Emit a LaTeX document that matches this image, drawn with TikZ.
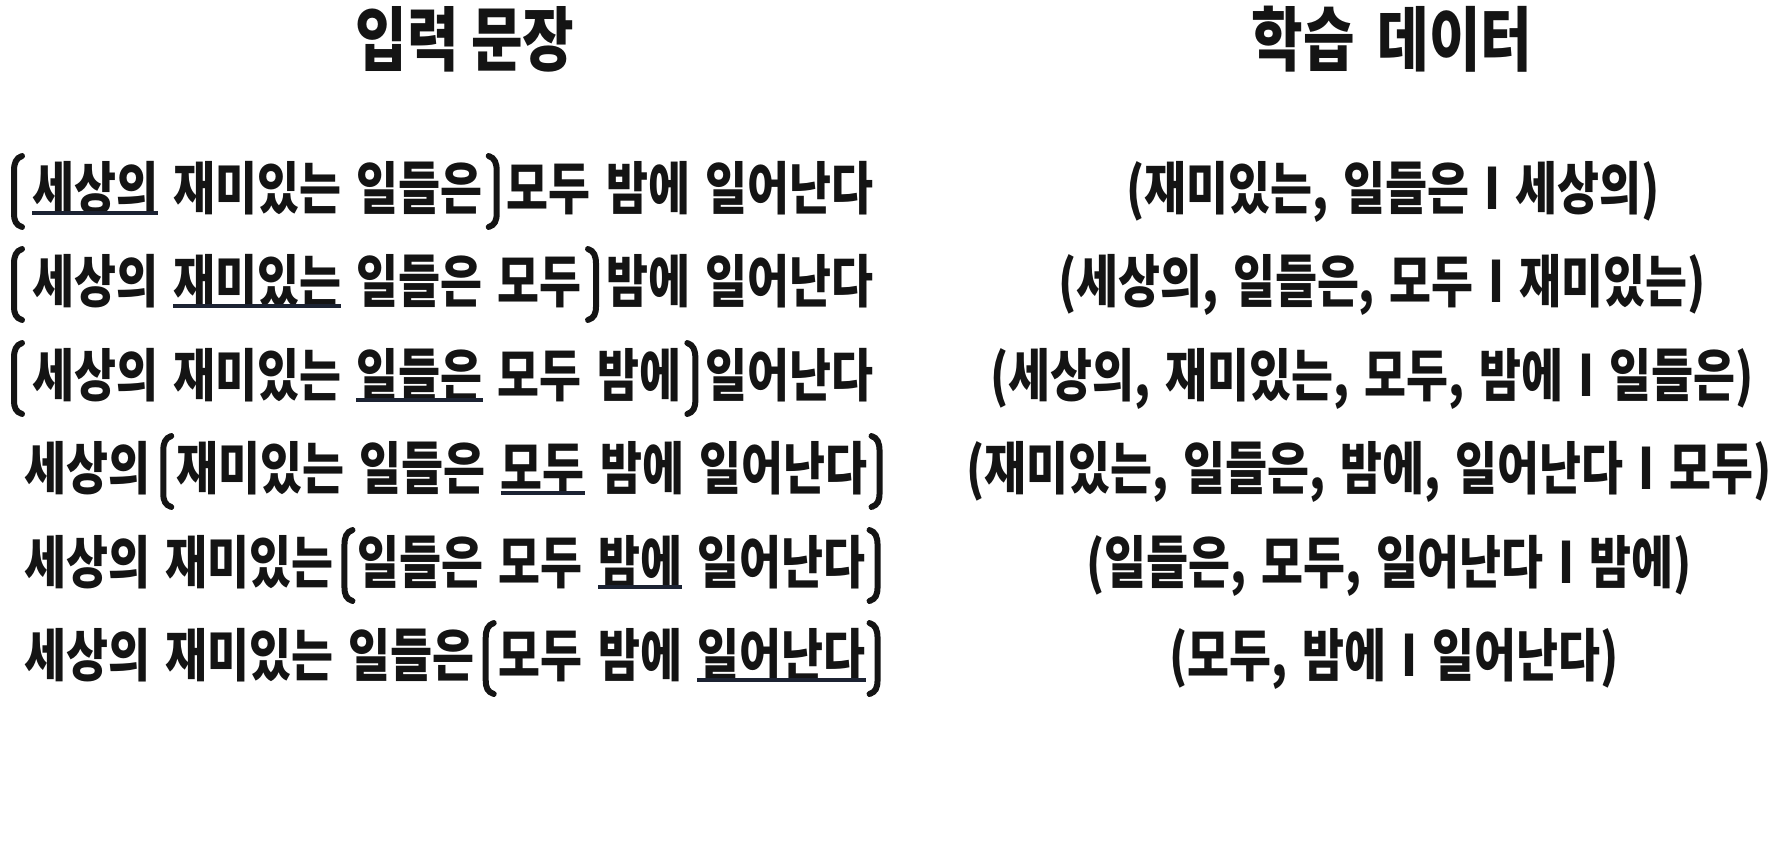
\documentclass[tikz,border=0pt]{standalone}
\usepackage{fontspec}
\newfontfamily\kr[FakeStretch=0.80]{Noto Sans CJK KR}
\usetikzlibrary{backgrounds}
\definecolor{tgtbg}{HTML}{DCE6EA}
\definecolor{inbg}{HTML}{FCF4EE}
\definecolor{ulc}{HTML}{1C2333}
\definecolor{ink}{HTML}{141414}
\newcommand\dsp{\hspace{15pt}}
\begin{document}
\begin{tikzpicture}[x=1pt,y=-1pt,
 wd/.style={anchor=base west,inner xsep=0pt,inner ysep=0pt,text height=48pt,text depth=4pt,font=\kr\bfseries\fontsize{57}{64}\selectfont,text=ink},
 hd/.style={anchor=base,inner sep=0pt,font=\kr\bfseries\fontsize{70}{78}\selectfont,text=ink},
 dat/.style={anchor=base,inner sep=0pt,font=\kr\bfseries\fontsize{57}{64}\selectfont,text=ink},
 ul/.style={ulc,line width=3.5pt},
 brk/.style={ink,line width=6pt,line cap=round},
 lbrk/.pic={\draw[brk] (8,-32) .. controls (2,-30) and (0,-25) .. (0,-17) -- (0,25) .. controls (0,33) and (2,37) .. (8,39);},
 rbrk/.pic={\draw[brk] (-8,-32) .. controls (-2,-30) and (0,-25) .. (0,-17) -- (0,25) .. controls (0,33) and (-2,37) .. (-8,39);},
]
\path[use as bounding box] (0,0) rectangle (1789,843);
\fill[white] (0,0) rectangle (1789,843);
% headers
\node[hd] (h1) at (465,66) {입력 문장};
\node[hd] (h2) at (1392,66) {학습 \hspace{10pt}데이터};
% ---- row 1
\coordinate (r1lb) at (14,188);
\node[wd] (r1a) at (32,209) {세상의};
\node[wd] (r1b) at ([xshift=15pt]r1a.base east) {재미있는};
\node[wd] (r1c) at ([xshift=15pt]r1b.base east) {일들은};
\node[wd] (r1d) at ([xshift=24pt]r1c.base east) {모두};
\node[wd] (r1e) at ([xshift=15pt]r1d.base east) {밤에};
\node[wd] (r1f) at ([xshift=15pt]r1e.base east) {일어난다};
\path (r1c.base east) ++(14,-21) coordinate (r1rb);
\pic at (r1lb) {lbrk};
\pic at (r1rb) {rbrk};
\draw[ul] (r1a.south west) -- (r1a.south east);
% ---- row 2
\coordinate (r2lb) at (14,281);
\node[wd] (r2a) at (32,302) {세상의};
\node[wd] (r2b) at ([xshift=15pt]r2a.base east) {재미있는};
\node[wd] (r2c) at ([xshift=15pt]r2b.base east) {일들은};
\node[wd] (r2d) at ([xshift=15pt]r2c.base east) {모두};
\node[wd] (r2e) at ([xshift=24pt]r2d.base east) {밤에};
\node[wd] (r2f) at ([xshift=15pt]r2e.base east) {일어난다};
\path (r2d.base east) ++(14,-21) coordinate (r2rb);
\pic at (r2lb) {lbrk};
\pic at (r2rb) {rbrk};
\draw[ul] (r2b.south west) -- (r2b.south east);
% ---- row 3
\coordinate (r3lb) at (14,375);
\node[wd] (r3a) at (32,396) {세상의};
\node[wd] (r3b) at ([xshift=15pt]r3a.base east) {재미있는};
\node[wd] (r3c) at ([xshift=15pt]r3b.base east) {일들은};
\node[wd] (r3d) at ([xshift=15pt]r3c.base east) {모두};
\node[wd] (r3e) at ([xshift=15pt]r3d.base east) {밤에};
\node[wd] (r3f) at ([xshift=24pt]r3e.base east) {일어난다};
\path (r3e.base east) ++(14,-21) coordinate (r3rb);
\pic at (r3lb) {lbrk};
\pic at (r3rb) {rbrk};
\draw[ul] (r3c.south west) -- (r3c.south east);
% ---- row 4
\node[wd] (r4a) at (24,489) {세상의};
\node[wd] (r4b) at ([xshift=26pt]r4a.base east) {재미있는};
\node[wd] (r4c) at ([xshift=15pt]r4b.base east) {일들은};
\node[wd] (r4d) at ([xshift=15pt]r4c.base east) {모두};
\node[wd] (r4e) at ([xshift=15pt]r4d.base east) {밤에};
\node[wd] (r4f) at ([xshift=15pt]r4e.base east) {일어난다};
\path (r4a.base east) ++(13,-21) coordinate (r4lb);
\path (r4f.base east) ++(12,-21) coordinate (r4rb);
\pic at (r4lb) {lbrk};
\pic at (r4rb) {rbrk};
\draw[ul] (r4d.south west) -- (r4d.south east);
% ---- row 5
\node[wd] (r5a) at (24,583) {세상의};
\node[wd] (r5b) at ([xshift=15pt]r5a.base east) {재미있는};
\node[wd] (r5c) at ([xshift=24pt]r5b.base east) {일들은};
\node[wd] (r5d) at ([xshift=15pt]r5c.base east) {모두};
\node[wd] (r5e) at ([xshift=15pt]r5d.base east) {밤에};
\node[wd] (r5f) at ([xshift=15pt]r5e.base east) {일어난다};
\path (r5b.base east) ++(11,-21) coordinate (r5lb);
\path (r5f.base east) ++(12,-21) coordinate (r5rb);
\pic at (r5lb) {lbrk};
\pic at (r5rb) {rbrk};
\draw[ul] (r5e.south west) -- (r5e.south east);
% ---- row 6
\node[wd] (r6a) at (24,676) {세상의};
\node[wd] (r6b) at ([xshift=15pt]r6a.base east) {재미있는};
\node[wd] (r6c) at ([xshift=15pt]r6b.base east) {일들은};
\node[wd] (r6d) at ([xshift=24pt]r6c.base east) {모두};
\node[wd] (r6e) at ([xshift=15pt]r6d.base east) {밤에};
\node[wd] (r6f) at ([xshift=15pt]r6e.base east) {일어난다};
\path (r6c.base east) ++(11,-21) coordinate (r6lb);
\path (r6f.base east) ++(12,-21) coordinate (r6rb);
\pic at (r6lb) {lbrk};
\pic at (r6rb) {rbrk};
\draw[ul] (r6f.south west) -- (r6f.south east);
% backgrounds
\begin{pgfonlayer}{background}
\fill[inbg] (r1a.north west) rectangle (r1c.south east);
\fill[tgtbg] (r1a.north west) rectangle (r1a.south east);
\fill[inbg] (r2a.north west) rectangle (r2d.south east);
\fill[tgtbg] (r2b.north west) rectangle (r2b.south east);
\fill[inbg] (r3a.north west) rectangle (r3e.south east);
\fill[tgtbg] (r3c.north west) rectangle (r3c.south east);
\fill[inbg] (r4b.north west) rectangle (r4f.south east);
\fill[tgtbg] (r4d.north west) rectangle (r4d.south east);
\fill[inbg] (r5c.north west) rectangle (r5f.south east);
\fill[tgtbg] (r5e.north west) rectangle (r5e.south east);
\fill[inbg] (r6d.north west) rectangle (r6f.south east);
\fill[tgtbg] (r6f.north west) rectangle (r6f.south east);
\end{pgfonlayer}
% training data
\node[dat] (d1) at (1393,209) {(재미있는,\dsp 일들은\dsp I\dsp 세상의)};
\node[dat] (d2) at (1382,302) {(세상의,\dsp 일들은,\dsp 모두\dsp I\dsp 재미있는)};
\node[dat] (d3) at (1372,396) {(세상의,\dsp 재미있는,\dsp 모두,\dsp 밤에\dsp I\dsp 일들은)};
\node[dat] (d4) at (1369,489) {(재미있는,\dsp 일들은,\dsp 밤에,\dsp 일어난다\dsp I\dsp 모두)};
\node[dat] (d5) at (1389,583) {(일들은,\dsp 모두,\dsp 일어난다\dsp I\dsp 밤에)};
\node[dat] (d6) at (1394,676) {(모두,\dsp 밤에\dsp I\dsp 일어난다)};
\end{tikzpicture}
\end{document}
